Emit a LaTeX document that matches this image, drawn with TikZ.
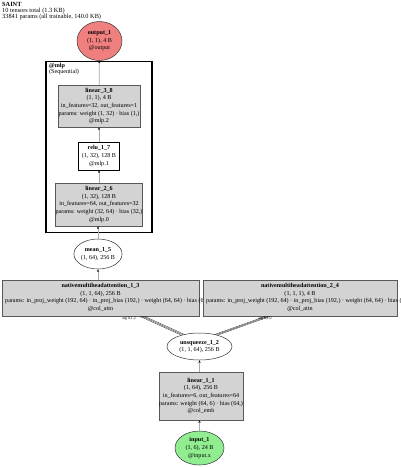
\documentclass[tikz,border=0pt]{standalone}
\usepackage{fontspec}
\setmainfont{Liberation Serif}
\usetikzlibrary{arrows.meta,shapes.geometric,calc}
\definecolor{boxgray}{HTML}{D3D3D3}
\definecolor{outred}{HTML}{F08080}
\definecolor{ingreen}{HTML}{90EE90}
\begin{document}
\begin{tikzpicture}[x=1pt,y=-1pt,
  every node/.style={font=\fontsize{6.1}{7.6}\selectfont, inner sep=0pt, align=center},
  opbox/.style={draw=gray!70!black, fill=boxgray, line width=0.5pt, rectangle},
  wbox/.style={draw=black, fill=white, line width=0.5pt, rectangle},
  tens/.style={draw=black!80, ellipse, line width=0.5pt},
  flow/.style={draw=gray!65, line width=0.8pt, -{Stealth[length=2.5pt,width=2pt,black]}},
  multi/.style={draw=gray!40!black, line width=0.35pt, -{Stealth[length=2pt,width=1.6pt]}},
  tiny/.style={font=\fontsize{3.8}{4}\selectfont},
]
\useasboundingbox (0,0) rectangle (400,467);

% title
\node[anchor=north west, align=left, font=\fontsize{6.3}{5.9}\selectfont] (title) at (2,2.2)
  {\textbf{SAINT}\\10 tensors total (1.3 KB)\\33841 params (all trainable, 140.0 KB)};

% output
\node[tens, fill=outred, minimum width=45pt, minimum height=39pt] (out) at (99.5,41)
  {\textbf{output\_1}\\(1, 1), 4 B\\@output};

% cluster
\node[draw=black, line width=1.8pt, minimum width=106pt, minimum height=171pt] (mlp) at (99,147) {};
\node[anchor=north west, align=left, font=\fontsize{6.1}{6}\selectfont] (mlplab) at (49,63.5)
  {\textbf{@mlp}\\(Sequential)};

\node[opbox, minimum width=82pt, minimum height=42pt] (lin38) at (99,106)
  {\textbf{linear\_3\_8}\\(1, 1), 4 B\\in\_features=32, out\_features=1\\params: weight (1, 32) · bias (1,)\\@mlp.2};
\node[wbox, minimum width=41pt, minimum height=28pt] (relu) at (99,156)
  {\textbf{relu\_1\_7}\\(1, 32), 128 B\\@mlp.1};
\node[opbox, minimum width=82pt, minimum height=43pt] (lin26) at (99,204.5)
  {\textbf{linear\_2\_6}\\(1, 32), 128 B\\in\_features=64, out\_features=32\\params: weight (32, 64) · bias (32,)\\@mlp.0};

% mean
\node[tens, fill=white, minimum width=44pt, minimum height=30pt] (mean) at (98,254)
  {\textbf{mean\_1\_5}\\(1, 64), 256 B};

% attention boxes
\node[opbox, minimum width=197pt, minimum height=36pt] (mha1) at (100.5,298) {};
\node (mha1t) at (100.5,289.8) {\textbf{nativemultiheadattention\_1\_3}\\(1, 1, 64), 256 B};
\node[anchor=west] (mha1p) at (5,301.3) {params: in\_proj\_weight (192, 64) · in\_proj\_bias (192,) · weight (64, 64) · bias (64,)};
\node (mha1c) at (100.5,309) {@col\_attn};

\node[opbox, minimum width=194pt, minimum height=36pt] (mha2) at (300,298) {};
\node (mha2t) at (300,289.8) {\textbf{nativemultiheadattention\_2\_4}\\(1, 1, 1), 4 B};
\node[anchor=west] (mha2p) at (206,301.3) {params: in\_proj\_weight (192, 64) · in\_proj\_bias (192,) · weight (64, 64) · bias (64,)};
\node (mha2c) at (300,309) {@col\_attn};

% unsqueeze
\node[tens, fill=white, minimum width=65pt, minimum height=27pt] (unsq) at (199.5,346.5)
  {\textbf{unsqueeze\_1\_2}\\(1, 1, 64), 256 B};

% linear_1_1
\node[opbox, minimum width=80pt, minimum height=48pt] (lin11) at (201,396)
  {\textbf{linear\_1\_1}\\(1, 64), 256 B\\in\_features=6, out\_features=64\\params: weight (64, 6) · bias (64,)\\@col\_emb};

% input
\node[tens, fill=ingreen, minimum width=49pt, minimum height=34pt] (inp) at (199.5,448)
  {\textbf{input\_1}\\(1, 6), 24 B\\@input.x};

% flow edges
\draw[flow] (inp) -- (inp |- lin11.south);
\draw[flow] (lin11.north -| unsq) -- (unsq);
\draw[flow] (mha1.north -| mean) -- (mean);
\draw[flow] (mean) -- (mean |- lin26.south);
\draw[flow] (lin26) -- (relu);
\draw[flow] (relu) -- (lin38);
\draw[flow] (lin38) -- (out);

% triple edges
\foreach \d in {-2.4,0,2.4} {
  \draw[multi] ([xshift=\d pt]unsq.145) -- ([xshift=41.5pt+\d pt]mha1.south);
  \draw[multi] ([xshift=\d pt]unsq.35) -- ([xshift=-32pt+\d pt]mha2.south);
}
\node[tiny] (l1) at (129,318.8) {arg 0,1,2};
\node[tiny] (l2) at (265,318.8) {arg 0,1,2};
\end{tikzpicture}
\end{document}
